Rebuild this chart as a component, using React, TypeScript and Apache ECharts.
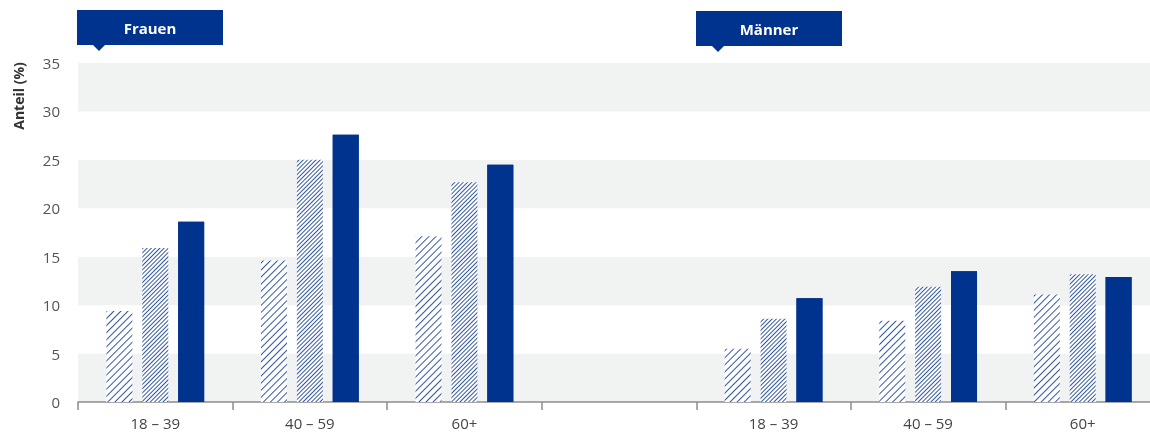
import React, { useEffect, useRef } from "react";
import * as echarts from "echarts";

const categories = ["18 – 39", "40 – 59", "60+", "", "18 – 39", "40 – 59", "60+"];
const seriesA = [9.4, 14.6, 17.1, null, 5.5, 8.4, 11.1];
const seriesB = [15.9, 25.0, 22.7, null, 8.6, 11.9, 13.2];
const seriesC = [18.6, 27.6, 24.5, null, 10.7, 13.5, 12.9];
const groupLabels = ["Frauen", "Männer"];
const yTitle = "Anteil (%)";

const DARK = "#00338d";
const HATCH = "#3358a6";
const FONT = "'Open Sans', 'Noto Sans', sans-serif";

function header(label: string, x: number, y: number) {
  return {
    type: "group",
    x,
    y,
    children: [
      { type: "rect", shape: { x: 0, y: 0, width: 146, height: 35 }, style: { fill: DARK } },
      {
        type: "polygon",
        shape: { points: [[16, 35], [28, 35], [22, 41]] },
        style: { fill: DARK },
      },
      {
        type: "text",
        x: 73,
        y: 17.5,
        style: {
          text: label,
          fill: "#ffffff",
          font: `bold 15px ${FONT}`,
          textAlign: "center",
          textVerticalAlign: "middle",
        },
      },
    ],
  };
}

export default function App() {
  const ref = useRef<HTMLDivElement>(null);
  useEffect(() => {
    if (!ref.current) return;
    const chart = echarts.init(ref.current, null, { renderer: "svg" });
    const barBase = { type: "bar", barWidth: 26, barGap: "38%" };
    chart.setOption({
      animation: false,
      aria: { enabled: true, decal: { show: true } },
      grid: { left: 78, right: 2, top: 63, bottom: 34 },
      graphic: [
        header(groupLabels[0], 77, 10),
        header(groupLabels[1], 696, 11),
        {
          type: "text",
          x: 18,
          y: 96,
          rotation: Math.PI / 2,
          style: {
            text: yTitle,
            fill: "#333",
            font: `bold 14px ${FONT}`,
            textAlign: "center",
            textVerticalAlign: "middle",
          },
        },
      ],
      xAxis: {
        type: "category",
        data: categories,
        axisLine: { lineStyle: { color: "#8c8c8c", width: 1.5 } },
        axisTick: { show: true, length: 8, lineStyle: { color: "#8c8c8c", width: 1.5 } },
        axisLabel: { color: "#444", fontSize: 15, fontFamily: FONT, margin: 13 },
      },
      yAxis: {
        type: "value",
        min: 0,
        max: 35,
        interval: 5,
        axisLine: { show: false },
        axisTick: { show: false },
        splitLine: { show: false },
        splitArea: { show: true, areaStyle: { color: ["#f1f2f2", "#ffffff"] } },
        axisLabel: { color: "#555", fontSize: 15, fontFamily: FONT, margin: 18 },
      },
      series: [
        {
          ...barBase,
          data: seriesA,
          itemStyle: {
            color: "#ffffff",
            decal: {
              symbol: "rect",
              symbolSize: 1,
              dashArrayX: [1, 0],
              dashArrayY: [1, 3.5],
              rotation: -Math.PI / 4,
              color: HATCH,
            },
          },
        },
        {
          ...barBase,
          data: seriesB,
          itemStyle: {
            color: "#ffffff",
            decal: {
              symbol: "rect",
              symbolSize: 1,
              dashArrayX: [1, 0],
              dashArrayY: [0.9, 1.6],
              rotation: -Math.PI / 4,
              color: HATCH,
            },
          },
        },
        {
          ...barBase,
          data: seriesC,
          itemStyle: {
            color: DARK,
            decal: {
              symbol: "rect",
              symbolSize: 1,
              dashArrayX: [1, 0],
              dashArrayY: [1, 0],
              color: DARK,
            },
          },
        },
      ],
    });
    return () => chart.dispose();
  }, []);
  return (
    <div
      ref={ref}
      style={{ position: "fixed", left: 0, top: 0, width: 1162, height: 436 }}
    />
  );
}
